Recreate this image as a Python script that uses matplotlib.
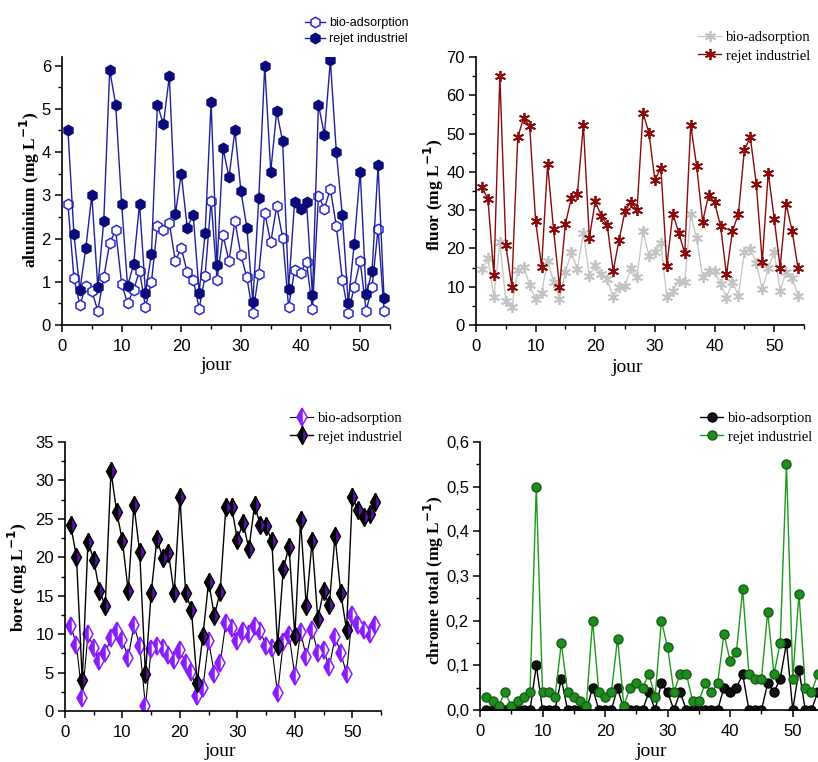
import matplotlib
matplotlib.use("Agg")
import matplotlib.pyplot as plt
from matplotlib.ticker import MultipleLocator, FuncFormatter
import numpy as np

days = list(range(1, 55))

alu_bio = [2.79, 1.09, 0.46, 0.90, 0.79, 0.33, 1.10, 1.90, 2.19, 0.95, 0.50, 0.81, 1.25, 0.41, 1.00,
           2.29, 2.19, 2.36, 1.48, 1.78, 1.22, 1.05, 0.38, 1.14, 2.88, 1.04, 2.08, 1.48, 2.40, 1.62,
           1.10, 0.27, 1.19, 2.59, 1.91, 2.75, 2.02, 0.41, 1.27, 1.21, 1.46, 0.36, 2.99, 2.69, 3.15,
           2.29, 1.05, 0.28, 0.88, 1.48, 0.33, 0.88, 2.23, 0.33]
alu_rej = [4.50, 2.10, 0.81, 1.79, 3.00, 0.88, 2.40, 5.90, 5.10, 2.80, 0.90, 1.40, 2.80, 0.75, 1.65,
           5.10, 4.64, 5.76, 2.56, 3.50, 2.25, 2.55, 0.75, 2.12, 5.15, 1.38, 4.09, 3.42, 4.50, 3.10,
           2.25, 0.54, 2.94, 6.00, 3.55, 4.94, 4.25, 0.84, 2.85, 2.69, 2.85, 0.69, 5.10, 4.40, 6.12,
           4.00, 2.55, 0.50, 1.88, 3.55, 0.71, 1.25, 3.69, 0.62]

flu_bio = [14.5, 17.4, 7.2, 21.6, 6.3, 4.6, 14.3, 15.2, 10.4, 6.7, 8.3, 16.8, 11.3, 6.8, 13.9,
           19.0, 14.5, 24.1, 12.8, 15.8, 13.2, 11.9, 7.4, 9.8, 10.2, 15.0, 12.6, 24.6, 18.0, 19.0,
           21.3, 7.4, 9.0, 11.6, 11.3, 28.9, 22.6, 12.6, 14.2, 14.2, 10.7, 7.1, 11.3, 7.7, 19.0,
           19.8, 16.3, 9.3, 14.8, 19.0, 8.9, 13.9, 12.4, 7.7]
flu_rej = [36.1, 32.8, 13.0, 65.0, 20.9, 10.0, 49.1, 54.1, 52.0, 27.1, 15.2, 42.0, 25.0, 10.0, 26.5,
           33.2, 34.1, 52.3, 22.8, 32.3, 28.5, 26.1, 14.1, 22.3, 29.8, 32.2, 30.0, 55.4, 50.2, 37.8,
           41.1, 15.4, 29.1, 24.1, 18.7, 52.3, 41.5, 27.0, 33.9, 32.0, 25.9, 13.2, 24.5, 29.0, 45.7,
           49.1, 36.8, 16.5, 39.8, 27.8, 15.0, 31.7, 24.6, 14.8]

bor_bio = [11.1, 8.6, 1.7, 10.0, 8.2, 6.5, 7.5, 9.5, 10.4, 9.2, 6.9, 11.2, 8.5, 0.6, 8.1,
           8.5, 8.2, 7.3, 6.7, 8.0, 6.2, 5.1, 2.0, 3.0, 9.1, 4.8, 6.2, 11.5, 10.8, 9.1,
           10.4, 10.0, 11.1, 10.4, 8.4, 8.2, 2.3, 9.0, 9.9, 4.6, 10.3, 7.0, 10.6, 7.6, 8.0,
           5.7, 9.6, 7.6, 4.8, 12.5, 11.2, 10.6, 10.0, 11.2]
bor_rej = [24.2, 20.0, 4.0, 22.0, 19.7, 15.6, 13.7, 31.2, 25.9, 22.1, 15.6, 26.8, 20.7, 4.8, 15.4,
           22.4, 19.9, 20.6, 15.3, 27.8, 15.4, 13.2, 3.7, 9.8, 16.8, 12.4, 15.5, 26.5, 26.5, 22.3,
           24.5, 21.1, 26.8, 24.2, 24.1, 22.1, 8.5, 18.5, 21.4, 9.7, 24.8, 13.6, 22.1, 12.0, 15.6,
           13.8, 22.8, 15.3, 10.6, 27.9, 26.1, 25.3, 25.6, 27.2]

chr_bio = [0, 0, 0, 0, 0, 0, 0, 0, 0.10, 0, 0, 0, 0.07, 0, 0,
           0, 0, 0.05, 0, 0, 0, 0.05, 0, 0, 0, 0, 0.04, 0, 0.06, 0.04,
           0, 0.04, 0, 0, 0, 0, 0, 0, 0.05, 0.04, 0.05, 0.08, 0, 0, 0,
           0.06, 0.04, 0.07, 0.15, 0, 0.09, 0, 0, 0.04]
chr_rej = [0.03, 0.02, 0.01, 0.04, 0.01, 0.02, 0.03, 0.04, 0.50, 0.04, 0.04, 0.03, 0.15, 0.04, 0.03,
           0.02, 0.01, 0.20, 0.04, 0.03, 0.04, 0.16, 0.01, 0.05, 0.06, 0.05, 0.08, 0.03, 0.20, 0.14,
           0.04, 0.08, 0.08, 0.02, 0.02, 0.06, 0.04, 0.06, 0.17, 0.11, 0.13, 0.27, 0.08, 0.07, 0.07,
           0.22, 0.08, 0.15, 0.55, 0.07, 0.26, 0.05, 0.04, 0.08]

W, H = 818, 762
fig = plt.figure(figsize=(W / 100, H / 100), dpi=100)

SANS = ['Liberation Sans', 'DejaVu Sans']
SERIF = ['Liberation Serif', 'DejaVu Serif']


def make_ax(x0, x55, y0, ytop):
    ax = fig.add_axes([x0 / W, (H - y0) / H, (x55 - x0) / W, (y0 - ytop) / H])
    for s in ['top', 'right']:
        ax.spines[s].set_visible(False)
    for s in ['left', 'bottom']:
        ax.spines[s].set_linewidth(1.2)
    ax.set_xlim(0, 55)
    ax.xaxis.set_major_locator(MultipleLocator(10))
    ax.xaxis.set_minor_locator(MultipleLocator(5))
    ax.tick_params(which='major', direction='out', length=5, width=1.1, labelsize=12, pad=3)
    ax.tick_params(axis='x', which='major', pad=5)
    ax.tick_params(which='minor', direction='out', length=3, width=1.0)
    ax.patch.set_alpha(0)
    return ax


def fix_fonts(ax):
    for lab in ax.get_xticklabels() + ax.get_yticklabels():
        lab.set_family(SANS)


def legend(ax, x, ytop, fam, size):
    lg = ax.legend(loc='upper left', bbox_to_anchor=(x / W, (H - ytop) / H),
                   bbox_transform=fig.transFigure, frameon=False, borderpad=0,
                   borderaxespad=0, handlelength=1.6, handletextpad=0.3,
                   labelspacing=0.35, prop={'family': fam, 'size': size})
    return lg


def ylab(x, y, text):
    fig.text(x / W, (H - y) / H, text, rotation=90, ha='center', va='center',
             family=SERIF, fontweight='bold', fontsize=12.5)


def xlab(x, y):
    fig.text(x / W, (H - y) / H, 'jour', ha='center', va='center', family=SERIF, fontsize=14)


# Panel 1: aluminium
ax1 = make_ax(62, 390, 325, 57)
ax1.plot(days, alu_bio, '-', color='#20209a', lw=1.0, marker='h', ms=7.5,
         mfc='white', mec='#2a2ad0', mew=1.1, label='bio-adsorption')
ax1.plot(days, alu_rej, '-', color='#20209a', lw=1.0, marker='h', ms=7.5,
         mfc='#0a0a7a', mec='#0a0a7a', label='rejet industriel')
ax1.set_ylim(0, 6.2)
ax1.yaxis.set_major_locator(MultipleLocator(1))
ax1.yaxis.set_minor_locator(MultipleLocator(0.5))
fix_fonts(ax1)
legend(ax1, 305, 17, SANS, 9)
ylab(30, 190, 'aluminium (mg L$^{\\mathbf{-1}}$)')
xlab(216, 366)

# Panel 2: fluor
ax2 = make_ax(476, 804, 325, 57)
ax2.plot(days, flu_bio, '-', color='#c8c8c8', lw=1.0, marker=(6, 2, 0), ms=8,
         mec='#c4c4c4', mew=1.3, label='bio-adsorption')
ax2.plot(days, flu_rej, '-', color='#8b0a0a', lw=1.0, marker=(6, 2, 0), ms=8,
         mec='#8b0a0a', mew=1.3, label='rejet industriel')
ax2.set_ylim(0, 70)
ax2.yaxis.set_major_locator(MultipleLocator(10))
ax2.yaxis.set_minor_locator(MultipleLocator(5))
fix_fonts(ax2)
legend(ax2, 698, 31, SERIF, 10.5)
ylab(434, 195, 'fluor (mg L$^{\\mathbf{-1}}$)')
xlab(627, 368)

# Panel 3: bore
ax3 = make_ax(65, 381, 711, 442)
ax3.plot(days, bor_bio, '-', color='black', lw=0.8, marker='d', ms=9,
         mfc='#8a1cff', mfcalt='white', fillstyle='left', mec='#8a1cff', mew=1.1,
         label='bio-adsorption')
ax3.plot(days, bor_rej, '-', color='black', lw=1.0, marker='d', ms=9,
         mfc='black', mfcalt='#5a10b0', fillstyle='left', mec='black', mew=1.0,
         label='rejet industriel')
ax3.set_ylim(0, 35)
ax3.yaxis.set_major_locator(MultipleLocator(5))
ax3.yaxis.set_minor_locator(MultipleLocator(2.5))
fix_fonts(ax3)
legend(ax3, 290, 412, SERIF, 10.5)
ylab(18, 577, 'bore (mg L$^{\\mathbf{-1}}$)')
xlab(220, 752)

# Panel 4: chrome total
ax4 = make_ax(480, 824, 710, 442)
ax4.plot(days, chr_bio, '-', color='black', lw=1.0, marker='o', ms=6.5,
         mfc='#111111', mec='black', label='bio-adsorption')
ax4.plot(days, chr_rej, '-', color='#1e9a1e', lw=1.0, marker='o', ms=6.5,
         mfc='#1e8c1e', mec='#136013', label='rejet industriel')
ax4.set_ylim(0, 0.6)
ax4.yaxis.set_major_locator(MultipleLocator(0.1))
ax4.yaxis.set_minor_locator(MultipleLocator(0.05))
ax4.yaxis.set_major_formatter(FuncFormatter(lambda v, p: f"{v:.1f}".replace('.', ',')))
fix_fonts(ax4)
legend(ax4, 700, 412, SERIF, 10.5)
ylab(434, 580, 'chrome total (mg L$^{\\mathbf{-1}}$)')
xlab(651, 752)

fig.savefig('out.png', dpi=100)
